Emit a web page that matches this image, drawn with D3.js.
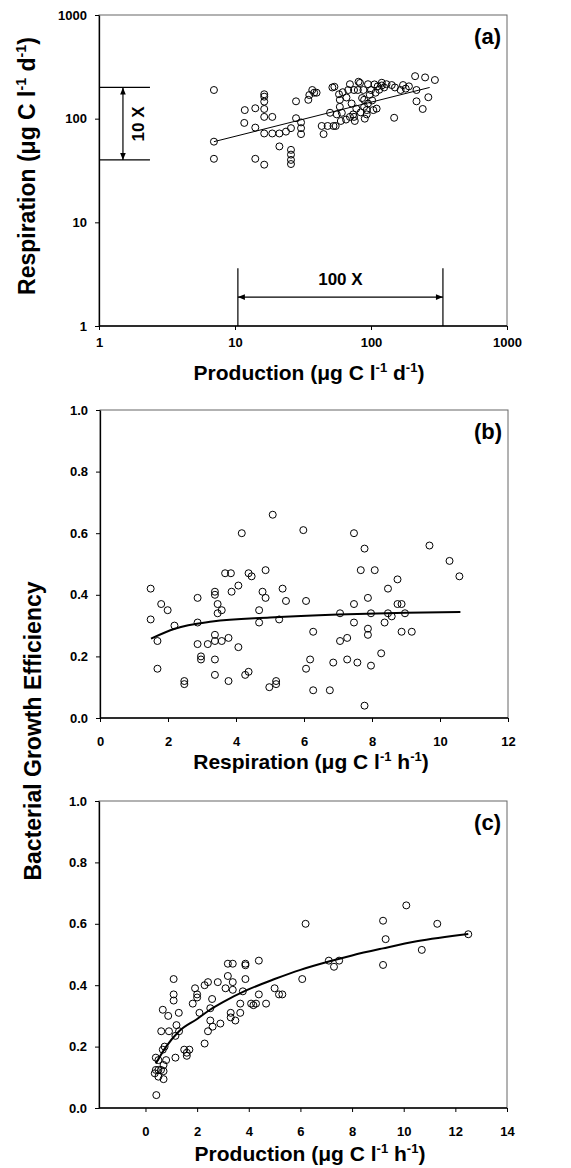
<!DOCTYPE html>
<html lang="en">
<head>
<meta charset="UTF-8">
<title>Production, respiration and growth efficiency</title>
<script src="https://cdn.jsdelivr.net/npm/d3@7/dist/d3.min.js"></script>
<style>
  body { margin: 0; background: #fff; }
  svg { display: block; font-family: "Liberation Sans", Arial, sans-serif; }
</style>
</head>
<body>
<div class="container"></div>
<script>
// panel (a): production vs respiration, ug C l-1 d-1 (log-log)
const prodA = [7.0,7.0,7.0,11.8,11.7,14.1,14.1,14.1,16.4,16.4,16.4,16.4,16.4,16.4,16.4,18.8,18.8,21.2,21.2,23.7,
  25.8,25.8,25.8,25.8,25.8,28.1,28.1,30.6,30.6,30.6,35.2,37.0,38.2,34.6,39.8,43.4,44.8,50,48,53,55,53.8,58.2,59,59,
  61,65.5,68,70,74,75,76,75,80,81,83,86,88,89,89,93,93,100,106,112,104,108,120,120,142,148,165,172,180,211,250,216,
  216,240,264,295,62,66,72,78,84,90,95,98,102,110,115,125,130,60,56,52,70,95,150,190]
const respA = [189,60,41,121,91,82,41,126,163,172,146,124,104,72,36,104,72,72,54,75,
  50,45,40,36.5,81,147,101,92,81,71,169,189,178,152,178,85,71,114,85,85,85,203,172,152,130,
  114,98,189,104,110,104,95,189,189,227,221,158,189,152,130,110,121,189,214,205,121,178,222,209,211,102,189,211,195,257,250,189,
  147,124,161,236,180,160,140,125,115,100,140,170,150,125,190,200,215,95,110,200,215,215,200,205]
const fitA = { x: [7, 270], y: [60, 200] }

// panel (b): respiration (ug C l-1 h-1) vs BGE
const respB = [4.17,5.08,5.98,7.47,7.78,9.69,10.28,10.57,3.68,3.85,4.37,4.46,4.87,7.67,8.08,8.75,
  1.49,1.49,1.69,1.69,1.8,1.99,2.19,2.48,2.48,2.87,2.87,2.87,2.97,2.97,3.17,3.38,3.38,3.38,3.38,3.38,3.38,
  3.46,3.46,3.58,3.58,3.78,3.78,3.87,4.07,4.07,4.27,4.37,4.68,4.68,4.78,4.87,4.98,5.18,5.18,5.27,5.37,5.47,
  6.06,6.06,6.18,6.27,6.27,6.76,6.86,7.06,7.06,7.27,7.27,7.47,7.47,7.57,7.78,7.88,7.88,7.88,7.97,7.97,
  8.27,8.37,8.47,8.47,8.58,8.75,8.87,8.87,8.97,9.17]
const bgeB = [0.60,0.66,0.61,0.60,0.55,0.56,0.51,0.46,0.47,0.47,0.47,0.46,0.48,0.48,0.48,0.45,
  0.42,0.32,0.25,0.16,0.37,0.35,0.30,0.12,0.11,0.39,0.31,0.24,0.20,0.19,0.24,0.41,0.40,0.27,0.25,0.19,0.14,
  0.37,0.34,0.35,0.25,0.26,0.12,0.41,0.23,0.43,0.14,0.15,0.35,0.31,0.41,0.39,0.10,0.12,0.11,0.32,0.42,0.38,
  0.38,0.16,0.19,0.28,0.09,0.09,0.18,0.34,0.25,0.26,0.19,0.37,0.31,0.18,0.04,0.39,0.29,0.27,0.34,0.17,
  0.21,0.31,0.34,0.42,0.33,0.37,0.37,0.28,0.34,0.28]
const fitB = { x: [1.5, 2.2, 3.3, 5, 7, 9, 10.6], y: [0.258, 0.29, 0.313, 0.326, 0.336, 0.342, 0.344] }

// panel (c): production (ug C l-1 h-1) vs BGE
const prodC = [6.2,9.2,9.3,10.1,11.3,10.7,12.5,9.2,7.1,7.5,7.3,3.19,3.38,3.87,3.87,4.39,
  1.09,1.09,1.09,1.29,0.67,0.88,0.61,0.91,1.2,1.3,1.16,0.74,0.67,0.8,1.16,0.4,0.5,0.4,0.5,0.6,0.36,0.5,
  0.7,0.7,0.7,0.42,1.5,1.6,1.7,1.6,1.83,1.92,2.0,2.0,2.09,2.29,2.42,2.29,2.42,2.51,2.58,2.51,2.6,2.8,2.9,
  3.1,3.19,3.3,3.3,3.38,3.38,3.48,3.67,3.67,3.77,3.87,4.09,4.18,4.28,4.39,4.67,5.0,5.17,5.3,6.07]
const bgeC = [0.60,0.61,0.55,0.66,0.60,0.515,0.566,0.466,0.48,0.48,0.46,0.47,0.47,0.47,0.465,0.48,
  0.42,0.37,0.35,0.31,0.32,0.30,0.25,0.25,0.27,0.25,0.235,0.20,0.19,0.156,0.164,0.164,0.156,0.124,0.124,0.124,0.113,0.102,
  0.14,0.12,0.094,0.042,0.19,0.18,0.19,0.17,0.34,0.39,0.37,0.36,0.31,0.40,0.41,0.21,0.25,0.325,0.355,0.285,0.265,0.41,0.275,
  0.39,0.43,0.31,0.295,0.41,0.385,0.285,0.34,0.31,0.38,0.42,0.34,0.335,0.34,0.37,0.34,0.39,0.37,0.37,0.42]
const fitC = { x: [0.4, 0.8, 1.3, 2, 2.5, 3, 3.9, 5, 6, 7.1, 8, 9.2, 10.5, 12.5],
               y: [0.145, 0.2, 0.25, 0.29, 0.32, 0.345, 0.383, 0.42, 0.45, 0.477, 0.497, 0.52, 0.543, 0.567] }

const W = 571, H = 1168
const svg = d3.select(".container").append("svg").attr("width", W).attr("height", H)
svg.append("rect").attr("width", W).attr("height", H).attr("fill", "#fff")

svg.append("defs").append("marker")
    .attr("id", "arr").attr("viewBox", "0 0 10 10").attr("refX", 10).attr("refY", 5)
    .attr("markerWidth", 10).attr("markerHeight", 7).attr("orient", "auto-start-reverse")
    .attr("markerUnits", "userSpaceOnUse")
  .append("path").attr("d", "M0,1 L10,5 L0,9 Z").attr("fill", "#000")

// text with superscripts: parts = [[text, isSup], ...]
function richText(sel, parts, size) {
  let up = false
  parts.forEach(([t, sup]) => {
    const ts = sel.append("tspan").text(t)
    if (sup && !up) { ts.attr("dy", -size * 0.38).attr("font-size", size * 0.62); up = true }
    else if (!sup && up) { ts.attr("dy", size * 0.38); up = false }
  })
}

function panel(box, x, y, xt, yt, pad, label) {
  const g = svg.append("g")
  g.append("rect").attr("x", box.l).attr("y", box.t).attr("width", box.r - box.l).attr("height", box.b - box.t)
    .attr("fill", "none").attr("stroke", "#666").attr("stroke-width", 1)

  const ax = g.append("g").attr("transform", `translate(0,${box.b})`)
    .call(d3.axisBottom(x).tickValues(xt.v).tickFormat(xt.f).tickSize(4).tickPadding(pad).tickSizeOuter(0))
  const ay = g.append("g").attr("transform", `translate(${box.l},0)`)
    .call(d3.axisLeft(y).tickValues(yt.v).tickFormat(yt.f).tickSize(4).tickPadding(8).tickSizeOuter(0))
  ;[ax, ay].forEach(a => {
    a.attr("font-family", null).attr("font-size", 13).attr("font-weight", "bold")
    a.select(".domain").attr("stroke", "#000").attr("stroke-width", 1.3)
  })
  ax.select(".domain").attr("d", `M${box.l},0H${box.r}`)

  g.append("text").attr("x", box.r - 6).attr("y", box.t + 29).attr("text-anchor", "end")
    .attr("font-size", 22).attr("font-weight", "bold").text(label)
  return g
}

function dots(g, xs, ys, x, y) {
  g.selectAll("circle.pt").data(xs.map((v, i) => [v, ys[i]])).join("circle")
    .attr("class", "pt").attr("cx", d => x(d[0])).attr("cy", d => y(d[1])).attr("r", 3.5)
    .attr("fill", "none").attr("stroke", "#000").attr("stroke-width", 1)
}

function fitLine(g, f, x, y, w) {
  g.append("path").datum(f.x.map((v, i) => [v, f.y[i]]))
    .attr("d", d3.line().x(d => x(d[0])).y(d => y(d[1])).curve(d3.curveMonotoneX))
    .attr("fill", "none").attr("stroke", "#000").attr("stroke-width", w)
}

const titleX = 21, titleY = 23

// ---- panel (a)
const boxA = { l: 99, r: 507, t: 15, b: 326 }
const xA = d3.scaleLog().domain([1, 1000]).range([boxA.l, boxA.r])
const yA = d3.scaleLog().domain([1, 1000]).range([boxA.b, boxA.t])
const decades = { v: [1, 10, 100, 1000], f: d3.format("d") }
const gA = panel(boxA, xA, yA, decades, decades, 8, "(a)")
fitLine(gA, fitA, xA, yA, 1)
dots(gA, prodA, respA, xA, yA)

// 10 X range marker
const tenX = { lo: 40, hi: 200, xEnd: 2.37, xArrow: 1.5 }
;[tenX.lo, tenX.hi].forEach(v => gA.append("line").attr("x1", xA(1)).attr("x2", xA(tenX.xEnd))
  .attr("y1", yA(v)).attr("y2", yA(v)).attr("stroke", "#000").attr("stroke-width", 1.2))
gA.append("line").attr("x1", xA(tenX.xArrow)).attr("x2", xA(tenX.xArrow))
  .attr("y1", yA(tenX.lo)).attr("y2", yA(tenX.hi)).attr("stroke", "#000").attr("stroke-width", 1.2)
  .attr("marker-start", "url(#arr)").attr("marker-end", "url(#arr)")
gA.append("text").attr("transform", `translate(${xA(2.15)},${yA(89)}) rotate(-90)`)
  .attr("text-anchor", "middle").attr("font-size", 17).attr("font-weight", "bold").text("10 X")

// 100 X range marker
const hundredX = { lo: 10.5, hi: 338, top: 3.6, yArrow: 1.9, yText: 2.5 }
;[hundredX.lo, hundredX.hi].forEach(v => gA.append("line").attr("x1", xA(v)).attr("x2", xA(v))
  .attr("y1", yA(1)).attr("y2", yA(hundredX.top)).attr("stroke", "#000").attr("stroke-width", 1.2))
gA.append("line").attr("x1", xA(hundredX.lo)).attr("x2", xA(hundredX.hi))
  .attr("y1", yA(hundredX.yArrow)).attr("y2", yA(hundredX.yArrow)).attr("stroke", "#000").attr("stroke-width", 1.2)
  .attr("marker-start", "url(#arr)").attr("marker-end", "url(#arr)")
gA.append("text").attr("x", xA(Math.sqrt(hundredX.lo * hundredX.hi))).attr("y", yA(hundredX.yText))
  .attr("text-anchor", "middle").attr("font-size", 17).attr("font-weight", "bold").text("100 X")

richText(svg.append("text").attr("x", 309).attr("y", 380).attr("text-anchor", "middle")
  .attr("font-size", titleX).attr("font-weight", "bold"),
  [["Production (μg C l"], ["-1", 1], [" d"], ["-1", 1], [")"]], titleX)
richText(svg.append("text").attr("transform", "translate(35,166) rotate(-90)").attr("text-anchor", "middle")
  .attr("font-size", titleY).attr("font-weight", "bold"),
  [["Respiration (μg C l"], ["-1", 1], [" d"], ["-1", 1], [")"]], titleY)

// ---- panel (b)
const boxB = { l: 100, r: 508, t: 410, b: 718 }
const xB = d3.scaleLinear().domain([0, 12]).range([boxB.l, boxB.r])
const yB = d3.scaleLinear().domain([0, 1]).range([boxB.b, boxB.t])
const bgeTicks = { v: [0, 0.2, 0.4, 0.6, 0.8, 1.0], f: d3.format(".1f") }
const gB = panel(boxB, xB, yB, { v: d3.range(0, 13, 2), f: d3.format("d") }, bgeTicks, 15, "(b)")
dots(gB, respB, bgeB, xB, yB)
fitLine(gB, fitB, xB, yB, 2)
richText(svg.append("text").attr("x", 311).attr("y", 769).attr("text-anchor", "middle")
  .attr("font-size", titleX).attr("font-weight", "bold"),
  [["Respiration (μg C l"], ["-1", 1], [" h"], ["-1", 1], [")"]], titleX)

// ---- panel (c)
const boxC = { l: 99, r: 507, t: 801, b: 1108 }
const xC = d3.scaleLinear().domain([-1.8, 14]).range([boxC.l, boxC.r])
const yC = d3.scaleLinear().domain([0, 1]).range([boxC.b, boxC.t])
const gC = panel(boxC, xC, yC, { v: d3.range(0, 15, 2), f: d3.format("d") }, bgeTicks, 15, "(c)")
dots(gC, prodC, bgeC, xC, yC)
fitLine(gC, fitC, xC, yC, 2)
richText(svg.append("text").attr("x", 310).attr("y", 1161).attr("text-anchor", "middle")
  .attr("font-size", titleX).attr("font-weight", "bold"),
  [["Production (μg C l"], ["-1", 1], [" h"], ["-1", 1], [")"]], titleX)

svg.append("text").attr("transform", "translate(41,731) rotate(-90)").attr("text-anchor", "middle")
  .attr("font-size", titleY).attr("font-weight", "bold").text("Bacterial Growth Efficiency")
</script>
</body>
</html>
